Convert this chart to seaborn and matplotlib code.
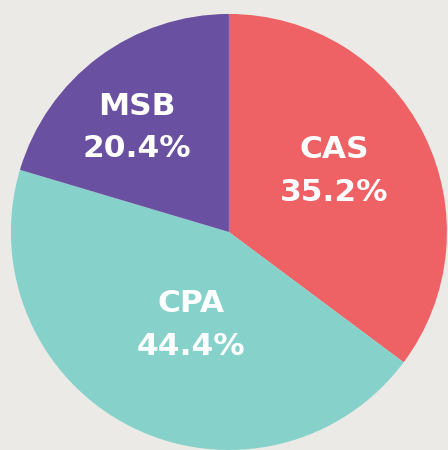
import matplotlib
matplotlib.use("Agg")
import matplotlib.pyplot as plt
import seaborn as sns
import numpy as np

categories = ["CAS", "CPA", "MSB"]
values = [35.2, 44.4, 20.4]
colors = ["#EE6164", "#86D2CB", "#6A50A0"]
# label placement (radius fraction, angle offset from wedge middle in degrees)
label_dist = [0.56, 0.46, 0.64]
label_dang = [3.4, 4.6, 4.8]

sns.set_style("white")
plt.rcParams['font.family'] = ['DejaVu Sans']

fig = plt.figure(figsize=(4.48, 4.50), dpi=100)
fig.patch.set_facecolor("#ECEAE6")
ax = fig.add_axes([0, 0, 1, 1])
ax.set_facecolor("#ECEAE6")

wedges, _ = ax.pie(values, colors=colors, startangle=90, counterclock=False,
                   radius=1.0, wedgeprops=dict(linewidth=0))

for w, cat, val, d, da in zip(wedges, categories, values, label_dist, label_dang):
    ang = np.deg2rad((w.theta1 + w.theta2) / 2 + da)
    ax.text(d * np.cos(ang), d * np.sin(ang), f"{cat}\n{val:.1f}%",
            ha="center", va="center", color="white", fontsize=22.5,
            fontweight="bold", linespacing=1.6)

ax.set_xlim(-1.050, 1.005)
ax.set_ylim(-1.0, 1.064)
ax.set_aspect("equal")
ax.axis("off")

fig.savefig("out.png", dpi=100, facecolor=fig.get_facecolor())
